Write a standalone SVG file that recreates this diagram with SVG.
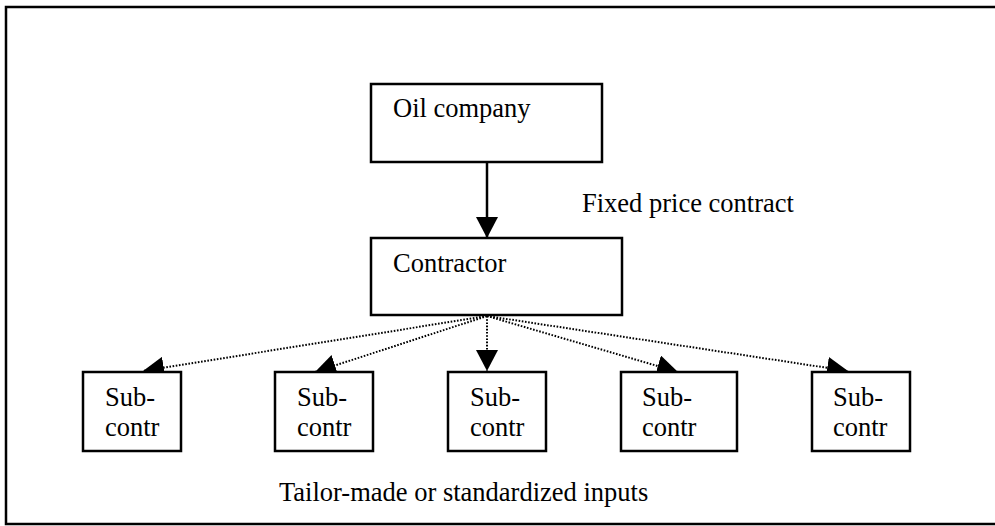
<svg xmlns="http://www.w3.org/2000/svg" width="995" height="526" viewBox="0 0 995 526">
<style>
.box{fill:#fff;stroke:#000;stroke-width:2.5}
.t{font-family:"Liberation Serif","Times New Roman",serif;font-size:26.5px;fill:#000}
.solid{stroke:#000;stroke-width:2.5;fill:none}
.dot{stroke:#000;stroke-width:2;fill:none;stroke-dasharray:1.6 1.6}
</style>
<defs>
<marker id="ah" markerUnits="userSpaceOnUse" markerWidth="22" markerHeight="22" viewBox="0 0 22 22" refX="21" refY="11" orient="auto">
<path d="M0,0 L21,11 L0,22 Z" fill="#000"/>
</marker>
</defs>
<rect x="0" y="0" width="995" height="526" fill="#fff"/>
<rect id="frame" x="6" y="7" width="1000" height="517" fill="none" stroke="#000" stroke-width="2.5"/>
<g id="connectors">
<line class="solid" x1="487" y1="163" x2="487" y2="238" marker-end="url(#ah)"/>
<line class="dot" x1="487" y1="316" x2="143" y2="371" marker-end="url(#ah)"/>
<line class="dot" x1="487" y1="316" x2="315" y2="372" marker-end="url(#ah)"/>
<line class="dot" x1="487" y1="316" x2="487" y2="371" marker-end="url(#ah)"/>
<line class="dot" x1="487" y1="316" x2="678" y2="372" marker-end="url(#ah)"/>
<line class="dot" x1="487" y1="316" x2="848" y2="371" marker-end="url(#ah)"/>
</g>
<g id="oil">
<rect class="box" x="371" y="84" width="231" height="78"/>
<text class="t" x="393" y="117">Oil company</text>
</g>
<g id="contractor">
<rect class="box" x="371" y="238" width="251" height="77"/>
<text class="t" x="393" y="272">Contractor</text>
</g>
<g id="sub1">
<rect class="box" x="83" y="372" width="98" height="79"/>
<text class="t" x="105" y="406">Sub-</text><text class="t" x="105" y="436">contr</text>
</g>
<g id="sub2">
<rect class="box" x="275" y="372" width="98" height="79"/>
<text class="t" x="297" y="406">Sub-</text><text class="t" x="297" y="436">contr</text>
</g>
<g id="sub3">
<rect class="box" x="448" y="372" width="98" height="79"/>
<text class="t" x="470" y="406">Sub-</text><text class="t" x="470" y="436">contr</text>
</g>
<g id="sub4">
<rect class="box" x="621" y="372" width="116" height="79"/>
<text class="t" x="642" y="406">Sub-</text><text class="t" x="642" y="436">contr</text>
</g>
<g id="sub5">
<rect class="box" x="812" y="372" width="98" height="79"/>
<text class="t" x="833" y="406">Sub-</text><text class="t" x="833" y="436">contr</text>
</g>
<text id="lbl-fixed" class="t" x="582" y="212">Fixed price contract</text>
<text id="lbl-inputs" class="t" x="279" y="501">Tailor-made or standardized inputs</text>
</svg>
